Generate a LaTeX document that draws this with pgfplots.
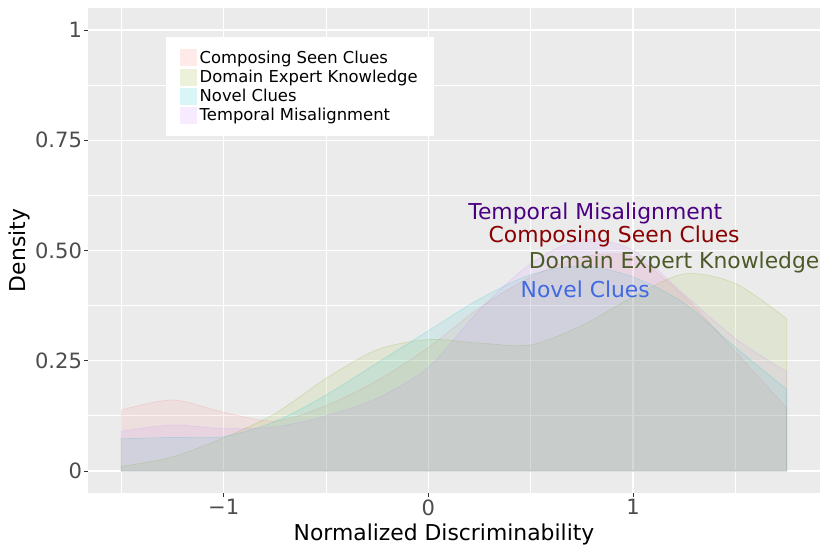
\documentclass[border=0pt]{standalone}
\usepackage{fontspec}
\setmainfont{DejaVu Sans}
\usepackage{pgfplots}
\pgfplotsset{compat=1.18}

\definecolor{panelbg}{HTML}{EBEBEB}
\definecolor{tickgray}{HTML}{4D4D4D}
\definecolor{cCSC}{HTML}{F8766D}
\definecolor{cDEK}{HTML}{7CAE00}
\definecolor{cNC}{HTML}{00BFC4}
\definecolor{cTM}{HTML}{C77CFF}
\definecolor{tTM}{HTML}{4B0082}
\definecolor{tCSC}{HTML}{8B0000}
\definecolor{tDEK}{HTML}{4B5A28}
\definecolor{tNC}{HTML}{4169E1}

\begin{document}
\begin{tikzpicture}
\useasboundingbox (-66pt,-46.5pt) rectangle (557.25pt,369.75pt);
\begin{axis}[
    scale only axis,
    width=549pt, height=363.75pt,
    xmin=-1.6625, xmax=1.9125,
    ymin=-0.05, ymax=1.05,
    axis background/.style={fill=panelbg},
    axis x line*=bottom, axis y line*=left,
    axis line style={draw=none},
    xtick={-1,0,1}, xticklabels={−1,0,1},
    ytick={0,0.25,0.5,0.75,1}, yticklabels={0,0.25,0.50,0.75,1},
    minor xtick={-1.5,-0.5,0.5,1.5},
    minor ytick={0.125,0.375,0.625,0.875},
    grid=both,
    major grid style={white, line width=1.1pt},
    minor grid style={white, line width=0.55pt},
    tick align=outside,
    major tick length=2.75pt, minor tick length=0pt,
    tick style={color=black!80, line width=0.5pt},
    ticklabel style={font=\fontsize{15.8}{18}\selectfont, text=tickgray},
    xticklabel style={inner sep=0pt, yshift=-2pt},
    yticklabel style={inner sep=0pt, xshift=-1.6pt},
    clip=false,
    legend style={
      at={(0.1066,0.940)}, anchor=north west,
      draw=none, fill=white,
      inner xsep=10.5pt, inner ysep=9pt,
      row sep=1.6pt,
      font=\fontsize{12.3}{14}\selectfont,
      nodes={inner xsep=1.8pt, inner ysep=0pt},
      cells={anchor=west},
    },
    legend image code/.code={
      \path[fill=#1, fill opacity=0.15, draw=none] (0pt,-6.4pt) rectangle (12.75pt,6.4pt);
    },
  ]

  % Composing Seen Clues
  \addplot[smooth, fill=cCSC, fill opacity=0.1, draw=cCSC, draw opacity=0.2, line width=0.5pt] coordinates {
    (-1.5,0.138) (-1.25,0.161) (-1.0,0.133) (-0.75,0.113) (-0.5,0.148)
    (-0.25,0.205) (0,0.28) (0.25,0.37) (0.5,0.44) (0.75,0.485)
    (1.0,0.485) (1.25,0.395) (1.5,0.27) (1.75,0.143)
  } \closedcycle;
  \addlegendentry{Composing Seen Clues}

  % Domain Expert Knowledge
  \addplot[smooth, fill=cDEK, fill opacity=0.1, draw=cDEK, draw opacity=0.2, line width=0.5pt] coordinates {
    (-1.5,0.01) (-1.25,0.032) (-1.0,0.075) (-0.75,0.13) (-0.5,0.21)
    (-0.25,0.275) (0,0.298) (0.25,0.29) (0.5,0.286) (0.75,0.33)
    (1.0,0.395) (1.25,0.447) (1.5,0.425) (1.75,0.345)
  } \closedcycle;
  \addlegendentry{Domain Expert Knowledge}

  % Novel Clues
  \addplot[smooth, fill=cNC, fill opacity=0.1, draw=cNC, draw opacity=0.2, line width=0.5pt] coordinates {
    (-1.5,0.073) (-1.25,0.076) (-1.0,0.078) (-0.75,0.112) (-0.5,0.172)
    (-0.25,0.245) (0,0.318) (0.25,0.39) (0.5,0.445) (0.75,0.465)
    (1.0,0.44) (1.25,0.38) (1.5,0.28) (1.75,0.185)
  } \closedcycle;
  \addlegendentry{Novel Clues}

  % Temporal Misalignment
  \addplot[smooth, fill=cTM, fill opacity=0.1, draw=cTM, draw opacity=0.2, line width=0.5pt] coordinates {
    (-1.5,0.09) (-1.25,0.104) (-1.0,0.096) (-0.75,0.10) (-0.5,0.125)
    (-0.25,0.165) (0,0.235) (0.25,0.365) (0.5,0.47) (0.75,0.525)
    (1.0,0.50) (1.25,0.40) (1.5,0.30) (1.75,0.225)
  } \closedcycle;
  \addlegendentry{Temporal Misalignment}

  \begin{scope}[font=\fontsize{16.4}{19}\selectfont]
  \node[text=tTM]  at (axis cs:0.815,0.583) {Temporal Misalignment};
  \node[text=tCSC] at (axis cs:0.907,0.531) {Composing Seen Clues};
  \node[text=tDEK] at (axis cs:1.20,0.472) {Domain Expert Knowledge};
  \node[text=tNC]  at (axis cs:0.766,0.413) {Novel Clues};
  \end{scope}
\end{axis}

\node[anchor=base, font=\fontsize{16.4}{19}\selectfont] at (267pt,-36pt) {Normalized Discriminability};
\node[anchor=base, rotate=90, font=\fontsize{16.4}{19}\selectfont] at (-47pt,181.9pt) {Density};
\end{tikzpicture}
\end{document}
